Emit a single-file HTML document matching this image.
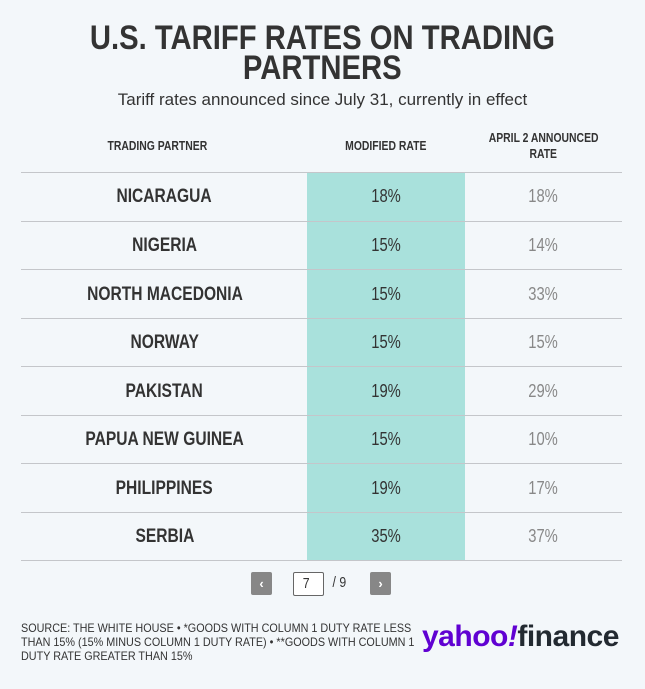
<!DOCTYPE html>
<html><head><style>
body{margin:0;width:645px;height:689px;background:#f3f7fa;font-family:"Liberation Sans",sans-serif;color:#333;position:relative;overflow:hidden}
.c{display:inline-block;transform:scaleX(0.82);transform-origin:center;white-space:nowrap}
.t{position:absolute;left:0;width:645px;text-align:center;font-weight:bold;font-size:34px;line-height:30px;top:23px;color:#333}
.t .c{transform:scaleX(0.86)}
.s{position:absolute;left:0;width:645px;text-align:center;font-size:17px;top:90px;color:#333}
.h{position:absolute;font-weight:bold;font-size:13px;text-align:center;line-height:16px}
.h .c{transform:scaleX(0.8)}
.teal{position:absolute;left:307px;top:172px;width:158px;height:389px;background:#a9e1dc}
.line{position:absolute;left:21px;width:601px;height:1px;background:#c4c6ca}
.n{position:absolute;left:21px;width:287px;text-align:center;font-weight:bold;font-size:19px}
.m{position:absolute;left:307px;width:158px;text-align:center;font-size:18px;color:#333}
.a{position:absolute;left:465px;width:157px;text-align:center;font-size:18px;color:#888}
.btn{position:absolute;top:572px;width:21px;height:23px;background:#878787;border-radius:2px;color:#fff;font-size:13px;text-align:center;line-height:23px;font-weight:bold}
.src{position:absolute;left:21px;top:621px;font-size:12px;line-height:14px;color:#333;transform:scaleX(0.9);transform-origin:left top;white-space:nowrap}
</style></head><body>
<div class="t"><span class="c">U.S. TARIFF RATES ON TRADING</span><br><span class="c">PARTNERS</span></div>
<div class="s">Tariff rates announced since July 31, currently in effect</div>
<div class="h" style="left:85px;width:145px;top:138px"><span class="c">TRADING PARTNER</span></div>
<div class="h" style="left:307px;width:158px;top:138px"><span class="c">MODIFIED RATE</span></div>
<div class="h" style="left:465px;width:157px;top:130px"><span class="c">APRIL 2 ANNOUNCED</span><br><span class="c">RATE</span></div>
<div class="teal"></div>
<div class="line" style="top:172px"></div>
<div class="line" style="top:221px"></div>
<div class="line" style="top:269px"></div>
<div class="line" style="top:318px"></div>
<div class="line" style="top:366px"></div>
<div class="line" style="top:415px"></div>
<div class="line" style="top:463px"></div>
<div class="line" style="top:512px"></div>
<div class="line" style="top:560px"></div>

<div class="n" style="top:186px"><span class="c">NICARAGUA</span></div><div class="m" style="top:186px"><span class="c">18%</span></div><div class="a" style="top:186px"><span class="c">18%</span></div>
<div class="n" style="top:235px"><span class="c">NIGERIA</span></div><div class="m" style="top:235px"><span class="c">15%</span></div><div class="a" style="top:235px"><span class="c">14%</span></div>
<div class="n" style="top:284px"><span class="c">NORTH MACEDONIA</span></div><div class="m" style="top:284px"><span class="c">15%</span></div><div class="a" style="top:284px"><span class="c">33%</span></div>
<div class="n" style="top:332px"><span class="c">NORWAY</span></div><div class="m" style="top:332px"><span class="c">15%</span></div><div class="a" style="top:332px"><span class="c">15%</span></div>
<div class="n" style="top:381px"><span class="c">PAKISTAN</span></div><div class="m" style="top:381px"><span class="c">19%</span></div><div class="a" style="top:381px"><span class="c">29%</span></div>
<div class="n" style="top:429px"><span class="c">PAPUA NEW GUINEA</span></div><div class="m" style="top:429px"><span class="c">15%</span></div><div class="a" style="top:429px"><span class="c">10%</span></div>
<div class="n" style="top:478px"><span class="c">PHILIPPINES</span></div><div class="m" style="top:478px"><span class="c">19%</span></div><div class="a" style="top:478px"><span class="c">17%</span></div>
<div class="n" style="top:526px"><span class="c">SERBIA</span></div><div class="m" style="top:526px"><span class="c">35%</span></div><div class="a" style="top:526px"><span class="c">37%</span></div>

<div class="btn" style="left:251px">‹</div>
<div style="position:absolute;left:293px;top:572px;background:#fff;border:1px solid #666;border-radius:2px;font-size:15px;line-height:22px;padding-left:8px;box-sizing:border-box;width:31px;height:24px"><span class="c">7</span></div>
<div style="position:absolute;left:331px;top:574px;font-size:15px"><span class="c">/ 9</span></div>
<div class="btn" style="left:370px">›</div>

<div class="src">SOURCE: THE WHITE HOUSE • *GOODS WITH COLUMN 1 DUTY RATE LESS<br>THAN 15% (15% MINUS COLUMN 1 DUTY RATE) • **GOODS WITH COLUMN 1<br>DUTY RATE GREATER THAN 15%</div>
<div style="position:absolute;left:422px;top:620px;font-family:'Liberation Sans',sans-serif;font-weight:bold;font-size:30px;letter-spacing:-0.5px;line-height:34px;white-space:nowrap"><span style="color:#6001d2">yahoo<i>!</i></span><span style="color:#232a31">finance</span></div>
</body></html>
